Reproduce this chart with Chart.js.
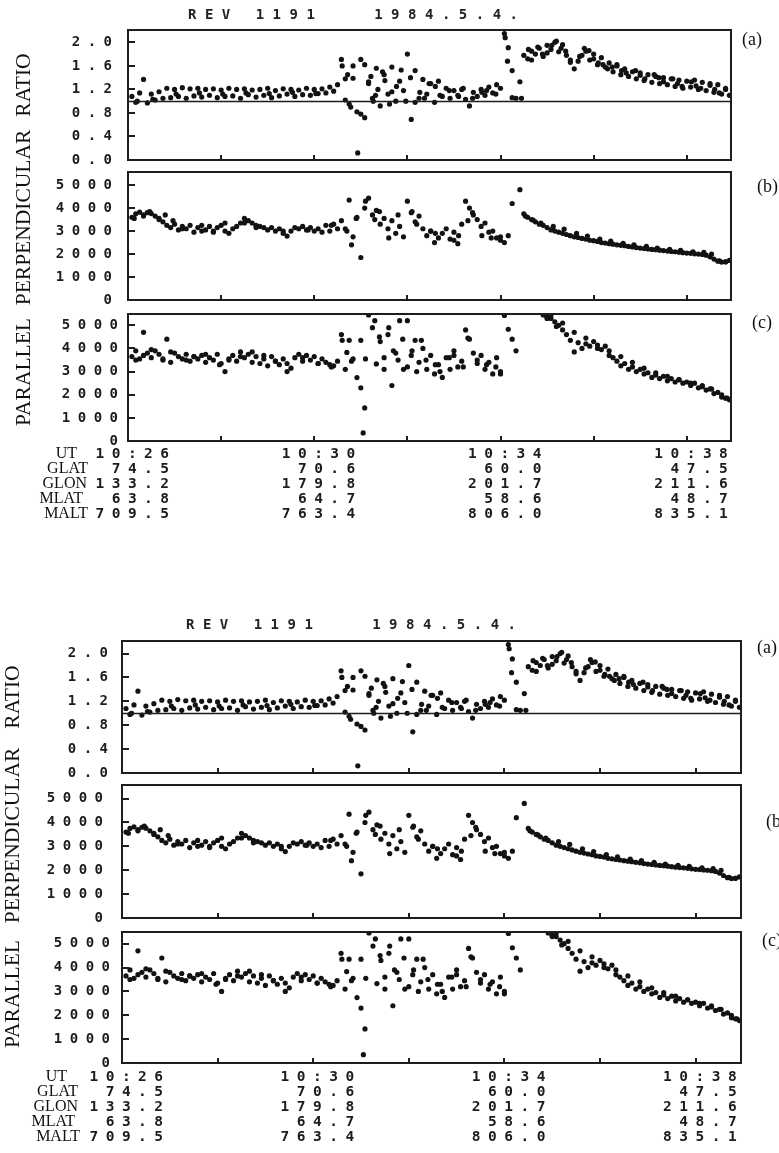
<!DOCTYPE html>
<html><head><meta charset="utf-8">
<script src="https://cdn.jsdelivr.net/npm/chart.js@4.4.1/dist/chart.umd.min.js"></script>
<style>
html,body{margin:0;padding:0;background:#fff;}
#page{position:relative;width:779px;height:1153px;overflow:hidden;background:#fff;}
#page canvas{position:absolute;left:0;}
</style></head><body><div id="page"></div>
<script>
// ---------- DATA ----------
// UT in seconds after 10:26:00
const ut = [5,10,15,20,25,30,35,40,45,50,55,60,65,70,75,80,85,90,95,100,
105,110,115,120,125,130,135,140,145,150,155,160,165,170,175,180,185,190,195,200,
205,210,215,220,225,230,235,240,245,250,255,260,265,270,275,280,285,290,295,300,
305,310,315,320,325,330,335,340,345,350,355,360,365,370,375,380,385,390,395,400,
405,410,415,420,425,430,435,440,445,450,455,460,465,470,475,480,485,490,495,500,
505,510,515,520,525,530,535,540,545,550,555,560,565,570,575,580,585,590,595,600,
605,610,615,620,625,630,635,640,645,650,655,660,665,670,675,680,685,690,695,700,
705,710,715,720,725,730,735,740,745,750,755,760,765,770,775];

const ratio = [1.08,0.98,1.14,1.37,0.97,1.12,1.02,1.16,1.05,1.22,
1.06,1.20,1.08,1.23,1.05,1.21,1.09,1.22,1.07,1.20,
1.10,1.21,1.06,1.19,1.08,1.22,1.09,1.20,1.05,1.21,
1.11,1.19,1.07,1.20,1.10,1.22,1.06,1.18,1.09,1.21,
1.12,1.20,1.08,1.19,1.11,1.22,1.10,1.20,1.13,1.21,
1.14,1.24,1.17,1.28,1.71,1.38,0.95,1.60,0.82,1.71,
0.72,1.33,1.05,1.56,0.92,1.45,1.12,1.58,1.00,1.34,
1.18,1.80,0.69,1.52,1.05,1.37,1.12,1.30,0.98,1.34,
1.08,1.22,1.05,1.18,1.10,1.20,1.03,0.92,1.15,1.08,
1.20,1.10,1.24,1.14,1.28,1.22,2.15,1.91,1.52,1.05,
1.33,1.78,1.72,1.85,1.80,1.90,1.76,1.95,1.88,2.00,
1.84,1.96,1.78,1.70,1.55,1.68,1.78,1.85,1.70,1.80,
1.62,1.74,1.58,1.65,1.50,1.60,1.45,1.55,1.42,1.50,
1.38,1.48,1.35,1.45,1.32,1.42,1.30,1.40,1.28,1.38,
1.25,1.36,1.22,1.34,1.24,1.36,1.20,1.32,1.18,1.30,
1.15,1.28,1.12,1.22,1.10];

const perp = [3600,3750,3820,3700,3800,3760,3650,3500,3400,3250,
3150,3300,3050,3200,3100,3250,2950,3150,3250,3050,
3200,2950,3150,3250,3000,2900,3100,3200,3350,3550,
3450,3350,3250,3200,3150,3050,3150,3000,3100,2900,
2780,3000,3150,3100,3200,3050,3150,3000,3100,2950,
3250,3000,3300,3100,3450,3100,4350,2750,3600,1850,
4000,4430,3700,3900,3300,3550,3100,3450,2900,3200,
2750,4300,3800,3400,3650,3100,2800,3000,2500,2700,
2900,3100,2650,2950,2450,3300,4300,4000,3700,3500,
3200,3350,2950,3000,2700,2600,2500,2800,4200,null,
4800,3750,3600,3500,3400,3300,3250,3150,3050,3000,
2950,2900,2850,2800,2750,2720,2680,2650,2600,2580,
2550,2500,2480,2450,2430,2400,2380,2360,2330,2310,
2280,2260,2240,2220,2200,2190,2170,2150,2130,2110,
2100,2080,2060,2040,2030,2010,2000,1980,1950,1880,
1780,1690,1650,1660,1720];

const para = [3650,3900,3550,4700,3800,3600,3900,3750,3550,4400,
3400,3800,3650,3550,3750,3450,3650,3550,3700,3400,
3600,3500,3750,3350,3000,3550,3700,3450,3850,3600,
3750,3400,3650,3350,3550,3250,3650,3450,3300,3550,
3000,3150,3600,3750,3450,3700,3500,3650,3350,3550,
3400,3300,3250,3450,4600,3100,4350,3550,2740,2300,
1430,5450,4900,3330,4300,3600,4600,2400,3800,5200,
3100,5200,3700,4350,3400,4000,3100,3700,2900,3300,
2750,3600,3100,3700,3200,3450,4800,4400,3800,3350,
3700,3100,3400,2900,3600,3000,5430,4830,4400,3900,
null,null,null,null,null,null,5450,5350,5300,5150,
5000,4800,4600,4350,3850,4250,4000,4200,4100,4300,
4000,3950,4100,3700,3600,3450,3250,3350,3100,3200,
3000,3100,2900,2950,2750,2850,2700,2800,2600,2700,
2550,2650,2500,2550,2400,2500,2300,2350,2200,2250,
2050,2100,1900,1850,1780];

// additional samples that share a time slot with another point
const ratioExtraT = [276,280,290,296,300,310,316,322,328,340,352,358,376,382,396,432,456,486,489,495,507,516,528,540,552,564,588,600,612,624,636,660,684,708,732,756,
  12,32,62,92,122,152,182,212,242,283,287,305,313,319,331,337,346,364,370,388,402,414,426,444,462,474,
  520,534,546,558,570,582,594,606,618,630,642,654,666,678,690,702,714,726,738,750,762,770];
const ratioExtraV = [1.60,1.02,1.39,0.12,0.78,1.30,1.00,1.20,1.50,1.16,1.53,1.00,1.15,1.05,1.25,1.22,1.15,2.08,1.68,1.06,1.05,1.88,1.92,1.82,2.02,1.85,1.90,1.72,1.62,1.58,1.52,1.44,1.40,1.30,1.26,1.20,
  1.00,1.03,1.12,1.14,1.12,1.14,1.13,1.15,1.13,1.45,0.90,1.62,1.42,1.10,1.35,0.95,1.25,1.40,0.98,1.30,1.10,1.18,1.08,1.05,1.18,1.12,
  1.70,1.80,1.95,1.90,1.66,1.76,1.86,1.65,1.55,1.62,1.48,1.52,1.38,1.45,1.33,1.38,1.25,1.33,1.22,1.27,1.14,1.20];
const perpExtraT = [20,40,70,110,150,282,288,294,306,318,324,336,348,366,372,390,396,420,426,438,444,456,468,480,
  8,28,48,58,95,125,165,200,232,262,
  512,522,532,548,562,578,592,608,622,638,652,668,682,698,712,728,742,752,762,770];
const perpExtraV = [3650,3550,3100,3000,3350,3000,2400,3550,4300,3500,3850,2700,3700,3850,3300,3000,2900,2600,2800,3450,3800,2800,2700,2750,
  3550,3850,3700,3450,3000,3350,3150,3000,3050,3250,
  3650,3480,3350,3200,3080,2900,2780,2650,2560,2470,2400,2330,2260,2200,2160,2100,2070,2000,1700,1660];
const paraExtraT = [20,45,85,130,175,276,282,288,300,303,306,318,324,330,336,342,348,354,360,366,372,378,384,396,402,414,420,432,438,450,462,474,480,540,552,
  10,30,55,75,100,118,145,160,190,205,225,245,262,
  545,560,575,590,605,620,635,650,665,680,695,710,725,740,752,765,772];
const paraExtraV = [3700,3500,3650,3500,3700,4350,3830,3450,4350,350,3550,5200,4500,3100,4900,3900,3500,4400,3200,3900,3000,4350,3500,3300,3000,3600,3900,3200,4450,3500,3300,3200,2900,5300,4950,
  3500,3950,3850,3500,3750,3300,3650,3850,3450,3350,3600,3350,3200,
  5450,5100,4700,4450,4150,3900,3650,3400,3150,2950,2800,2650,2500,2400,2250,2000,1850];

// tick values
const ratioTicks = [0,0.4,0.8,1.2,1.6,2.0];
const countTicks = [0,1000,2000,3000,4000,5000];
const timeTicks = [120,240,360,480,600,720];
const labelSecs = [0,240,480,720];

// axis / annotation text
const titleText = 'REV 1191   1984.5.4.';
const panelLetters = ['(a)','(b)','(c)'];
const yTitles = ['RATIO','PERPENDICULAR','PARALLEL'];
const rowNames = ['UT','GLAT','GLON','MLAT','MALT'];
const utLabels = ['10:26','10:30','10:34','10:38'];
const glat = ['74.5','70.6','60.0','47.5'];
const glon = ['133.2','179.8','201.7','211.6'];
const mlat = ['63.8','64.7','58.6','48.7'];
const malt = ['709.5','763.4','806.0','835.1'];

// ---------- LAYOUT (two printed copies of the figure) ----------
const copies = [
  {left:128,right:731,title:[353,15],yTitleX:24.5,
   boxes:[[30,160],[172,300],[314,441]],
   titleDy:[-10,-18.5,-5.5], tickPad:[8.5,8.5,2.5],
   letters:[[742,40],[757,187],[752,323]],
   rowNameDx:[-51,-40,-41,-45,-40], rowTop:13},
  {left:122,right:741,title:[351,625],yTitleX:13,
   boxes:[[641,773],[785,918],[932,1063]],
   titleDy:[-10,-16,-3.5], tickPad:[6.5,11.5,4.5],
   letters:[[757,648],[766,822],[762,941]],
   rowNameDx:[-55,-44,-44,-47,-42], rowTop:14}
];

const panels = [
  {vals:ratio, exT:ratioExtraT, exV:ratioExtraV, max:2.21, ticks:ratioTicks, fmt:v=>v.toFixed(1), ref:1.0},
  {vals:perp, exT:perpExtraT, exV:perpExtraV, max:5570, ticks:countTicks, fmt:v=>String(Math.round(v)), ref:null},
  {vals:para, exT:paraExtraT, exV:paraExtraV, max:5490, ticks:countTicks, fmt:v=>String(Math.round(v)), ref:null}
];

const MONO = '"DejaVu Sans Mono"';
const SERIF = '"Liberation Serif"';
const SPACING = 7.5;

const deco = {
  id:'deco',
  beforeDraw(chart){ chart.ctx.letterSpacing = SPACING + 'px'; },
  afterDraw(chart){
    const o = chart.options.plugins.deco;
    const ctx = chart.ctx, a = chart.chartArea, x = chart.scales.x, y = chart.scales.y;
    ctx.save();
    ctx.letterSpacing = '0px';
    ctx.strokeStyle = '#1e1e1e';
    ctx.lineWidth = 2;
    ctx.strokeRect(a.left, a.top, a.right - a.left, a.bottom - a.top);
    y.ticks.forEach(t => {
      const py = Math.round(y.getPixelForValue(t.value));
      ctx.beginPath(); ctx.moveTo(a.left, py); ctx.lineTo(a.left + 7, py); ctx.stroke();
    });
    x.ticks.forEach(t => {
      if (t.value <= x.min) return;
      const px = Math.round(x.getPixelForValue(t.value));
      ctx.beginPath(); ctx.moveTo(px, a.bottom); ctx.lineTo(px, a.bottom - 5); ctx.stroke();
    });
    if (o.ref !== null) {
      const py = Math.round(y.getPixelForValue(o.ref)) + 0.5;
      ctx.lineWidth = 1.3;
      ctx.beginPath(); ctx.moveTo(a.left, py); ctx.lineTo(a.right, py); ctx.stroke();
    }
    ctx.fillStyle = '#111';
    ctx.save();
    ctx.font = '21.5px ' + SERIF;
    ctx.textAlign = 'center'; ctx.textBaseline = 'middle';
    ctx.translate(o.yTitleX, (a.top + a.bottom) / 2 + o.yTitleDy);
    ctx.rotate(-Math.PI / 2);
    ctx.fillText(o.yTitle, 0, 0);
    ctx.restore();
    ctx.font = '18px ' + SERIF;
    ctx.textAlign = 'left'; ctx.textBaseline = 'middle';
    ctx.fillText(o.letter, o.letterPos[0], o.letterPos[1]);
    if (o.title) {
      ctx.save();
      ctx.letterSpacing = '8.5px';
      ctx.font = 'bold 14px ' + MONO;
      ctx.fillStyle = '#222';
      ctx.textAlign = 'center'; ctx.textBaseline = 'middle';
      ctx.fillText(o.title, o.titlePos[0] + 4.25, o.titlePos[1]);
      ctx.restore();
    }
    if (o.rows) {
      ctx.font = '16px ' + SERIF;
      ctx.textAlign = 'right'; ctx.textBaseline = 'middle';
      rowNames.forEach((n, i) => {
        ctx.fillText(n, a.left + o.rowNameDx[i], a.bottom + o.rowTop + i * 15);
      });
    }
    ctx.restore();
  }
};

const page = document.getElementById('page');

copies.forEach((cp) => {
  panels.forEach((p, pi) => {
    const [bt, bb] = cp.boxes[pi];
    const isC = pi === 2;
    const padTop = 45, padBottom = isC ? 0 : 30, xH = isC ? 90 : 0;
    const h = bb - bt + padTop + padBottom + xH;
    const top = bt - padTop;
    const cv = document.createElement('canvas');
    cv.width = 779; cv.height = h;
    cv.style.top = top + 'px';
    cv.style.width = '779px'; cv.style.height = h + 'px';
    page.appendChild(cv);

    const mainPts = [];
    ut.forEach((t, i) => { if (p.vals[i] !== null) mainPts.push({x: t, y: p.vals[i]}); });
    const extraPts = p.exT.map((t, i) => ({x: t, y: p.exV[i]}));
    const ptStyle = {pointRadius: 2.6, pointBackgroundColor: '#121212', pointBorderWidth: 0, borderWidth: 0};

    new Chart(cv, {
      type: 'scatter',
      data: {datasets: [
        Object.assign({data: mainPts}, ptStyle),
        Object.assign({data: extraPts}, ptStyle)
      ]},
      options: {
        responsive: false, animation: false, devicePixelRatio: 1, events: [],
        layout: {autoPadding: false, padding: {left: 0, right: 779 - cp.right, top: padTop, bottom: padBottom}},
        plugins: {
          legend: {display: false}, tooltip: {enabled: false},
          deco: {
            ref: p.ref, yTitle: yTitles[pi], yTitleX: cp.yTitleX, yTitleDy: cp.titleDy[pi],
            letter: panelLetters[pi], letterPos: [cp.letters[pi][0], cp.letters[pi][1] - top],
            title: pi === 0 ? titleText : null, titlePos: [cp.title[0], cp.title[1] - top],
            rows: isC, rowNameDx: cp.rowNameDx, rowTop: cp.rowTop
          }
        },
        scales: {
          x: {
            type: 'linear', min: 0, max: 777,
            grid: {display: false, drawTicks: false}, border: {display: false},
            afterBuildTicks: (s) => { s.ticks = [0].concat(timeTicks).map(v => ({value: v})); },
            ticks: {
              display: isC, autoSkip: false,
              maxRotation: 0, minRotation: 0, padding: cp.rowTop - 7.5, labelOffset: 8,
              color: '#1c1c1c',
              font: {family: 'DejaVu Sans Mono', size: 14.5, weight: 'bold', lineHeight: '15px'},
              callback: (v) => {
                const k = labelSecs.indexOf(v);
                if (k < 0) return '';
                return [utLabels[k], glat[k], glon[k], mlat[k], malt[k]].map(s => s.padStart(5, ' '));
              }
            },
            afterFit: (s) => { s.height = xH; }
          },
          y: {
            min: 0, max: p.max,
            grid: {display: false, drawTicks: false}, border: {display: false},
            afterBuildTicks: (s) => { s.ticks = p.ticks.map(v => ({value: v})); },
            ticks: {
              padding: cp.tickPad[pi], color: '#1c1c1c',
              font: {family: 'DejaVu Sans Mono', size: 14, weight: 'bold'},
              callback: p.fmt
            },
            afterFit: (s) => { s.width = cp.left; }
          }
        }
      },
      plugins: [deco]
    });
  });
});
</script>
</body></html>
